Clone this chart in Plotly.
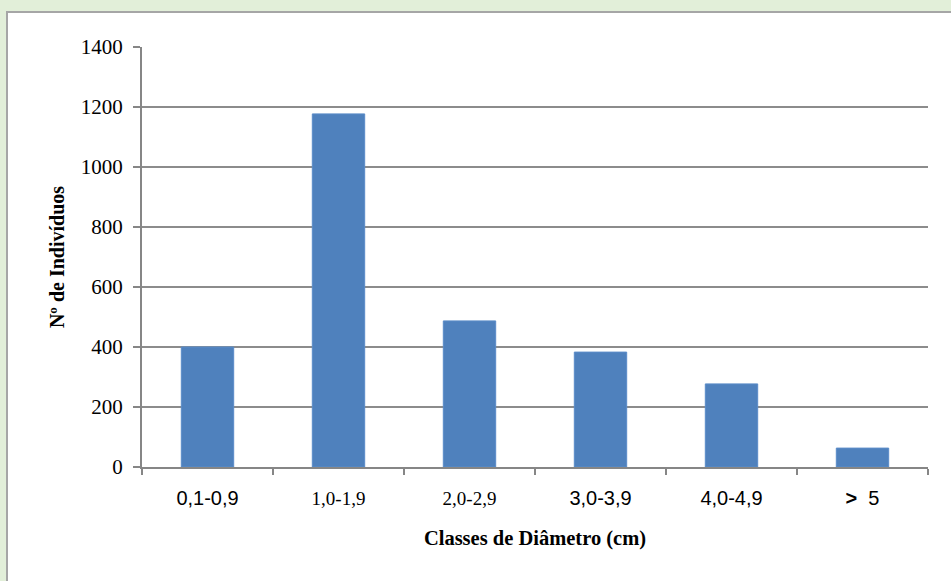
import plotly.graph_objects as go

categories = ["0,1-0,9", "1,0-1,9", "2,0-2,9", "3,0-3,9", "4,0-4,9", "> 5"]
values = [400, 1177, 487, 383, 277, 63]
tick_fonts = ["Liberation Sans", "Liberation Serif", "Liberation Serif",
              "Liberation Sans", "Liberation Sans", "Liberation Sans"]
y_ticks = [0, 200, 400, 600, 800, 1000, 1200, 1400]

ticktext = []
for c, f in zip(categories, tick_fonts):
    label = c.replace("> ", "<b>&gt;</b>  ")
    if f == "Liberation Serif":
        ticktext.append(f'<span style="font-family:Liberation Serif;font-size:19px">{label}</span>')
    else:
        ticktext.append(label)

fig = go.Figure()
fig.add_trace(go.Bar(
    x=categories, y=values,
    marker=dict(color="#4F81BD", line=dict(color="#5B8CC8", width=1)),
    width=0.4,
))

W, H = 951, 581
L, R, T, B = 142, 23, 47, 114
pw, ph = W - L - R, H - T - B
def px2x(p):
    return (p - L) / pw
def py2y(p):
    return (H - B - p) / ph

fig.add_shape(type="rect", xref="paper", yref="paper",
              x0=px2x(7), x1=px2x(965), y0=py2y(12), y1=py2y(600),
              fillcolor="white", line=dict(color="#A6A6A6", width=2), layer="below")

fig.update_layout(
    width=W, height=H,
    margin=dict(l=L, r=R, t=T, b=B, pad=0),
    paper_bgcolor="#E2EFD9",
    plot_bgcolor="white",
    showlegend=False,
    bargap=0.6,
    font=dict(family="Liberation Serif", color="black"),
    xaxis=dict(
        tickmode="array", tickvals=categories, ticktext=ticktext,
        tickson="boundaries", ticks="outside", ticklen=6, tickcolor="#868686", tickwidth=2,
        showline=True, linecolor="#868686", linewidth=2,
        tickfont=dict(family="Liberation Sans", size=20, color="black"),
        ticklabelstandoff=12,
        title=dict(text="<b>Classes de Diâmetro (cm)</b>",
                   font=dict(family="Liberation Serif", size=20.5, color="black"), standoff=23),
        showgrid=False,
    ),
    yaxis=dict(
        range=[0, 1400], tickvals=y_ticks,
        ticks="outside", ticklen=7, tickcolor="#868686", tickwidth=2,
        showline=True, linecolor="#868686", linewidth=2,
        showgrid=True, gridcolor="#8C8C8C", gridwidth=1.5,
        tickfont=dict(family="Liberation Serif", size=21, color="black"),
        ticklabelstandoff=6,
        title=dict(text="<b>Nº de Indivíduos</b>",
                   font=dict(family="Liberation Serif", size=20, color="black"), standoff=11),
        zeroline=False,
    ),
)

fig.write_html("out.html", config={"displayModeBar": False},
               post_script="document.body.style.margin='0px';document.body.style.overflow='hidden';")
